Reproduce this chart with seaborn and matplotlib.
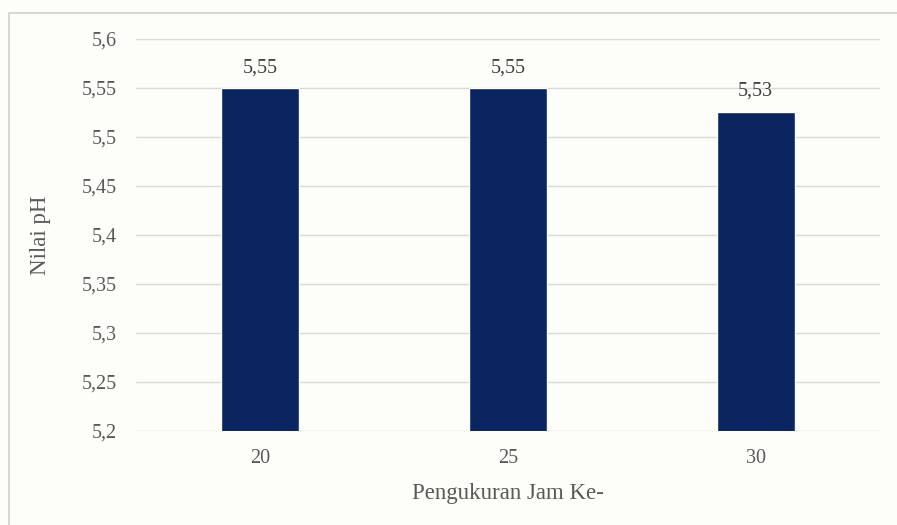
import matplotlib
matplotlib.use("Agg")
import matplotlib.pyplot as plt
import seaborn as sns
import pandas as pd
from matplotlib.patches import Rectangle

hours = ["20", "25", "30"]
ph_values = [5.55, 5.55, 5.526]
y_ticks = [5.2, 5.25, 5.3, 5.35, 5.4, 5.45, 5.5, 5.55, 5.6]

df = pd.DataFrame({"jam": hours, "ph": ph_values})

sns.set_theme(style="white")
plt.rcParams["font.family"] = ["Liberation Serif", "DejaVu Serif"]

bg = "#fdfdf9"
fig = plt.figure(figsize=(8.97, 5.25), dpi=100, facecolor=bg)
ax = fig.add_axes([0.1516, 0.179, 0.829, 0.7467], facecolor=bg)

# outer chart frame
fig.patches.append(Rectangle((9 / 897, -0.05), 1.2, 1 - 13 / 525 + 0.05,
                             transform=fig.transFigure, fill=False,
                             edgecolor="#d0d0d0", linewidth=1.2, zorder=0))

sns.barplot(data=df, x="jam", y="ph", color="#0b2560", width=0.315,
            saturation=1, ax=ax, zorder=3)

ax.set_ylim(5.2, 5.6)
ax.set_yticks(y_ticks)
ax.set_yticklabels([f"{t:g}".replace(".", ",") for t in y_ticks])
ax.grid(axis="y", color="#d9d9d9", linewidth=1, zorder=0)
ax.set_axisbelow(True)
for s in ax.spines.values():
    s.set_visible(False)
ax.tick_params(axis="both", length=0, labelsize=14.5, colors="#595959")
ax.tick_params(axis="x", pad=13)
ax.tick_params(axis="y", pad=14)

for patch, v in zip(ax.patches, ph_values):
    ax.text(patch.get_x() + patch.get_width() / 2, v + 0.011,
            f"{v:.2f}".replace(".", ","), ha="center", va="bottom",
            fontsize=14.5, color="#404040")

ax.set_xlabel("Pengukuran Jam Ke-", fontsize=16.5, color="#595959")
ax.set_ylabel("Nilai pH", fontsize=16.5, color="#595959")
ax.xaxis.set_label_coords(0.5, -(493 - 431) / 392, transform=ax.transAxes)
ax.yaxis.set_label_coords(-(136 - 40) / 744, 0.5, transform=ax.transAxes)
ax.xaxis.label.set_va("center")
ax.yaxis.label.set_va("center")

fig.savefig("out.png", dpi=100, facecolor=bg)
